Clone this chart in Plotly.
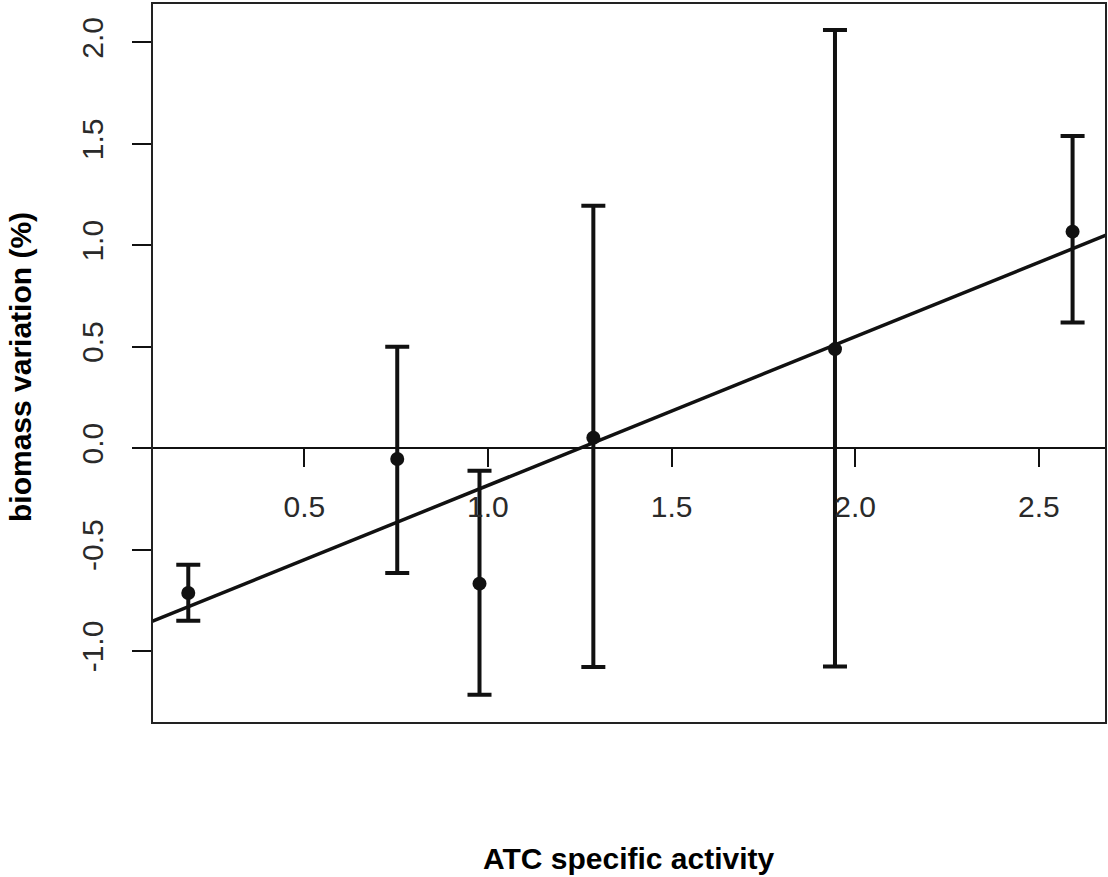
import numpy as np
import plotly.graph_objects as go

# ---- data ----
atc_activity = [0.184, 0.753, 0.977, 1.287, 1.945, 2.592]
biomass_var = [-0.714, -0.054, -0.668, 0.051, 0.488, 1.067]
upper_bound = [-0.575, 0.499, -0.112, 1.195, 2.061, 1.538]
lower_bound = [-0.851, -0.616, -1.216, -1.079, -1.077, 0.619]

x_tickvals = [0.5, 1.0, 1.5, 2.0, 2.5]
x_ticktext = ["0.5", "1.0", "1.5", "2.0", "2.5"]
y_tickvals = [-1.0, -0.5, 0.0, 0.5, 1.0, 1.5, 2.0]
y_ticktext = ["-1.0", "-0.5", "0.0", "0.5", "1.0", "1.5", "2.0"]

x_title = "ATC specific activity"
y_title = "biomass variation (%)"

# ---- layout constants ----
W, H = 1108, 877
ML, MR, MT, MB = 152, 2, 3, 154
x_range = [0.0852, 2.683]
y_range = [-1.355, 2.194]

err_plus = [u - m for u, m in zip(upper_bound, biomass_var)]
err_minus = [m - l for m, l in zip(biomass_var, lower_bound)]

slope, intercept = np.polyfit(atc_activity, biomass_var, 1)
line_x = np.array(x_range)
line_y = slope * line_x + intercept

INK = "#111111"
tick_font = dict(family="Liberation Sans, Arial, sans-serif", size=30, color="#2a2a2a")
title_font = dict(family="Liberation Sans, Arial, sans-serif", size=30, color="#000000")

fig = go.Figure()

fig.add_trace(go.Scatter(
    x=line_x, y=line_y, mode="lines",
    line=dict(color=INK, width=3.5),
    showlegend=False, hoverinfo="skip", cliponaxis=True,
))

fig.add_trace(go.Scatter(
    x=atc_activity, y=biomass_var, mode="markers",
    marker=dict(color=INK, size=14),
    error_y=dict(type="data", symmetric=False, array=err_plus, arrayminus=err_minus,
                 color=INK, thickness=4, width=12),
    showlegend=False, cliponaxis=False,
))

zero_pos = (0 - y_range[0]) / (y_range[1] - y_range[0])

fig.update_layout(
    width=W, height=H,
    margin=dict(l=ML, r=MR, t=MT, b=MB, autoexpand=False),
    plot_bgcolor="white", paper_bgcolor="white",
    xaxis=dict(
        range=x_range, anchor="free", position=zero_pos,
        showgrid=False, zeroline=False,
        showline=True, linecolor=INK, linewidth=2,
        ticks="outside", ticklen=18, tickwidth=2, tickcolor=INK,
        tickvals=x_tickvals, ticktext=x_ticktext,
        tickfont=tick_font, ticklabelstandoff=14,
        automargin=False,
    ),
    yaxis=dict(
        range=y_range, anchor="x",
        showgrid=False, zeroline=False,
        showline=False,
        ticks="outside", ticklen=19, tickwidth=2, tickcolor=INK,
        tickvals=y_tickvals, ticktext=y_ticktext,
        tickfont=tick_font, tickangle=-90, ticklabelstandoff=17,
        automargin=False,
    ),
    shapes=[dict(type="rect", xref="paper", yref="paper", x0=0, x1=1, y0=0, y1=1,
                 line=dict(color="#222222", width=2), layer="above")],
    annotations=[
        dict(text=f"<b>{x_title}</b>", xref="paper", yref="paper", x=0.5, y=0,
             xanchor="center", yanchor="middle", yshift=-135, showarrow=False,
             font=title_font),
        dict(text=f"<b>{y_title}</b>", xref="paper", yref="paper", x=0, y=0.5,
             xanchor="center", yanchor="middle", xshift=-132, yshift=-4,
             textangle=-90, showarrow=False, font=title_font),
    ],
)

fig.write_html("out.html", config={"displayModeBar": False},
               post_script="document.body.style.margin='0';")
